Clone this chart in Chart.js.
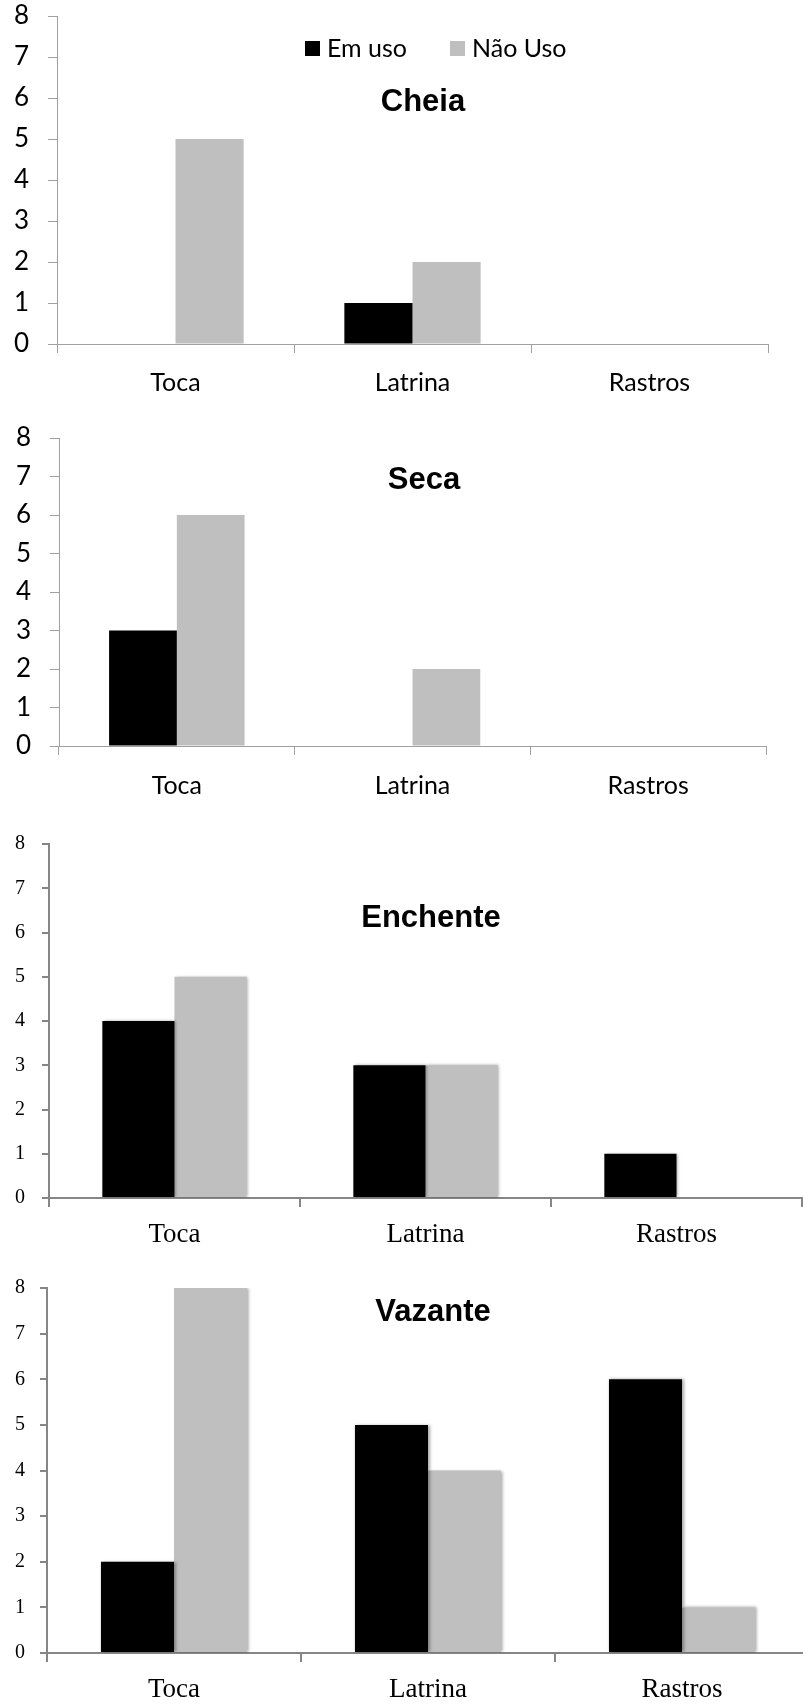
<!DOCTYPE html>
<html>
<head>
<meta charset="utf-8">
<script src="https://cdn.jsdelivr.net/npm/chart.js@4.4.1/dist/chart.umd.min.js"></script>
<style>
  html, body { margin: 0; padding: 0; background: #fff; overflow: hidden; }
  body { width: 803px; height: 1706px; position: relative; }
  .painel { position: absolute; left: 0; }
  canvas { display: block; }
</style>
</head>
<body>
<div class="painel" style="top:-20px"><canvas id="cheia" width="803" height="420"></canvas></div>
<div class="painel" style="top:400px"><canvas id="seca" width="803" height="400"></canvas></div>
<div class="painel" style="top:800px"><canvas id="enchente" width="803" height="470"></canvas></div>
<div class="painel" style="top:1240px"><canvas id="vazante" width="830" height="466"></canvas></div>
<script>
const categorias = ["Toca", "Latrina", "Rastros"];
const series = ["Em uso", "Não Uso"];
const yTicks = [0, 1, 2, 3, 4, 5, 6, 7, 8];

const cheiaEmUso = [0, 1, 0];
const cheiaNaoUso = [5, 2, 0];
const secaEmUso = [3, 0, 0];
const secaNaoUso = [6, 2, 0];
const enchenteEmUso = [4, 3, 1];
const enchenteNaoUso = [5, 3, 0];
const vazanteEmUso = [2, 5, 6];
const vazanteNaoUso = [8, 4, 1];

const PRETO = "#000000";
const CINZA = "#BFBFBF";

// titulo e legenda desenhados por cima da area do grafico
const textoPainel = {
  id: "textoPainel",
  afterDraw(chart, args, opts) {
    const ctx = chart.ctx;
    ctx.save();
    ctx.fillStyle = "#000";
    ctx.font = "bold 31px 'Liberation Sans', Arial, sans-serif";
    ctx.textAlign = "center";
    ctx.textBaseline = "middle";
    ctx.fillText(opts.titulo, opts.tx, opts.ty);
    if (opts.legenda) {
      ctx.font = "25px Lato, sans-serif";
      ctx.textAlign = "left";
      const ly = opts.legendaY;
      const itens = [[series[0], PRETO, 305], [series[1], CINZA, 450]];
      itens.forEach(([nome, cor, x]) => {
        ctx.fillStyle = cor;
        ctx.fillRect(x, ly - 7, 15, 15);
        ctx.fillStyle = "#000";
        ctx.fillText(nome, x + 22, ly + 1);
      });
    }
    ctx.restore();
  }
};

const sombra = {
  id: "sombra",
  beforeDatasetsDraw(chart, args, opts) {
    if (!opts.ativo) return;
    chart.ctx.save();
    chart.ctx.shadowColor = "rgba(0,0,0,0.35)";
    chart.ctx.shadowBlur = 3;
    chart.ctx.shadowOffsetX = 1.5;
    chart.ctx.shadowOffsetY = 0;
  },
  afterDatasetsDraw(chart, args, opts) {
    if (!opts.ativo) return;
    chart.ctx.restore();
  }
};

function criarGrafico(id, emUso, naoUso, cfg) {
  const serif = cfg.serif;
  const corEixo = serif ? "#868686" : "#A0A0A0";
  const larg = serif ? 2 : 1;
  const fonteY = serif ? { family: "'Liberation Serif', serif", size: 20 } : { family: "Lato", size: 26 };
  const fonteX = serif ? { family: "'Liberation Serif', serif", size: 27 } : { family: "Lato", size: 25 };

  return new Chart(document.getElementById(id), {
    type: "bar",
    data: {
      labels: categorias,
      datasets: [
        { label: series[0], data: emUso, backgroundColor: PRETO, borderWidth: 0 },
        { label: series[1], data: naoUso, backgroundColor: CINZA, borderWidth: 0 }
      ]
    },
    options: {
      responsive: false,
      animation: false,
      categoryPercentage: 0.575,
      barPercentage: 1,
      layout: { padding: { top: cfg.top, right: cfg.right, left: 0, bottom: 0 } },
      plugins: {
        legend: { display: false },
        tooltip: { enabled: false },
        textoPainel: { titulo: cfg.titulo, tx: cfg.tx, ty: cfg.ty, legenda: !!cfg.legenda, legendaY: cfg.legendaY },
        sombra: { ativo: serif }
      },
      scales: {
        x: {
          grid: { offset: true, drawOnChartArea: false, drawTicks: true, tickLength: 9, color: corEixo, lineWidth: larg },
          border: { display: true, color: corEixo, width: larg },
          ticks: { color: "#000", font: fonteX, padding: cfg.xPad, maxRotation: 0 },
          afterFit(scale) { scale.height = cfg.xAltura; }
        },
        y: {
          min: 0,
          max: 8,
          afterBuildTicks(scale) { scale.ticks = yTicks.map(v => ({ value: v })); },
          grid: { drawOnChartArea: false, drawTicks: true, tickLength: cfg.yTick, color: corEixo, lineWidth: larg },
          border: { display: true, color: corEixo, width: larg },
          ticks: { color: "#000", font: fonteY, padding: cfg.yPad },
          afterFit(scale) { scale.width = cfg.esquerda; }
        }
      }
    },
    plugins: [textoPainel, sombra]
  });
}

// canvas deslocado 20px para cima
criarGrafico("cheia", cheiaEmUso, cheiaNaoUso, {
  titulo: "Cheia", tx: 423, ty: 122, legenda: true, legendaY: 68,
  top: 36, right: 35, esquerda: 57, xAltura: 56, xPad: 15, yTick: 9, yPad: 19
});
criarGrafico("seca", secaEmUso, secaNaoUso, {
  titulo: "Seca", tx: 424, ty: 80,
  top: 38, right: 37, esquerda: 59, xAltura: 54, xPad: 16, yTick: 9, yPad: 19
});
criarGrafico("enchente", enchenteEmUso, enchenteNaoUso, {
  titulo: "Enchente", tx: 431, ty: 118, serif: true,
  top: 44, right: 1, esquerda: 49, xAltura: 72, xPad: 12, yTick: 7, yPad: 17
});
criarGrafico("vazante", vazanteEmUso, vazanteNaoUso, {
  titulo: "Vazante", tx: 433, ty: 72, serif: true,
  top: 48, right: 21, esquerda: 47, xAltura: 53, xPad: 12, yTick: 7, yPad: 15
});
</script>
</body>
</html>
